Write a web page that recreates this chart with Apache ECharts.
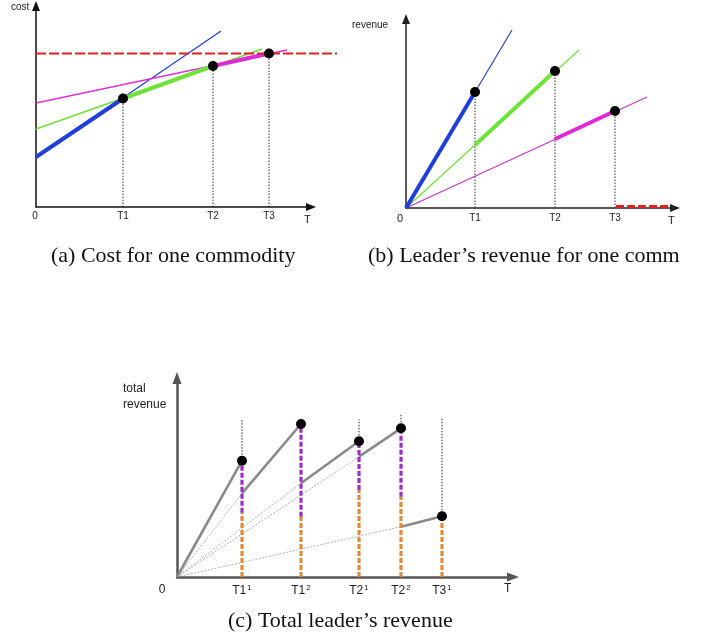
<!DOCTYPE html>
<html>
<head>
<meta charset="utf-8">
<script src="https://cdn.jsdelivr.net/npm/echarts@6/dist/echarts.min.js"></script>
<style>
  html, body { margin: 0; padding: 0; background: #fff; }
  #main { width: 705px; height: 642px; }
</style>
</head>
<body>
<div id="main"></div>
<script>
  // (a) cost for one commodity -- units are picture pixels from the origin
  var aTickX = [0, 87, 177, 233];
  var aTickName = ['0', 'T1', 'T2', 'T3'];
  var aBlue = [[0, 50], [185, 176]];
  var aGreen = [[0, 78], [226, 158]];
  var aPink = [[0, 104], [251, 157]];
  var aDots = [[87, 108.5], [177, 141], [233, 153.5]];
  var aLimit = [[0, 153.5], [301, 153.5]];

  // (b) leader's revenue for one commodity
  var bTickX = [0, 69, 149, 209];
  var bTickName = ['0', 'T1', 'T2', 'T3'];
  var bBlue = [[0, 0], [106, 178]];
  var bGreen = [[0, 0], [173, 158]];
  var bPink = [[0, 0], [241, 111]];
  var bDots = [[69, 116], [149, 137], [209, 97]];
  var bStart = [[0, 0], [69, 63], [149, 69]];
  var bLimit = [[210, 1.5], [264, 1.5]];

  // (c) total leader's revenue
  var cTickX = [0, 65, 124, 182, 224, 265];
  var cTickName = ['0', 'T1|1', 'T1|2', 'T2|1', 'T2|2', 'T3|1'];
  var cDots = [[65, 116.3], [124, 153], [182, 135.7], [224, 148.7], [265, 60.7]];
  var cJoin = [[0, 0], [65, 83.7], [124, 93.7], [182, 120.3], [224, 50.3]];
  var cOrange = [64.3, 60.3, 87, 80.3, 60.7];
  var cGuide = [157, null, 157.7, 162, 158.7];

  var chart = echarts.init(document.getElementById('main'));

  function seg(idx, data, color, width, type, z) {
    return {
      type: 'line', xAxisIndex: idx, yAxisIndex: idx, data: data,
      symbol: 'none', silent: true, clip: false, z: z || 2,
      lineStyle: { color: color, width: width, type: type || 'solid', cap: 'butt' }
    };
  }
  function dots(idx, data, size) {
    return {
      type: 'scatter', xAxisIndex: idx, yAxisIndex: idx, data: data,
      symbolSize: size, silent: true, z: 10,
      itemStyle: { color: '#000', opacity: 1 }
    };
  }
  function xAx(idx, max, ticks, fmt, color, width, arrow, font, margin, rich) {
    return {
      gridIndex: idx, type: 'value', min: 0, max: max,
      axisLine: { show: true, onZero: false, symbol: ['none', 'triangle'], symbolSize: arrow,
        lineStyle: { color: color, width: width } },
      axisTick: { show: false }, splitLine: { show: false },
      axisLabel: { customValues: ticks, formatter: fmt, margin: margin,
        fontFamily: 'Liberation Sans', fontSize: font, color: '#222', rich: rich }
    };
  }
  function yAx(idx, max, color, width, arrow) {
    return {
      gridIndex: idx, type: 'value', min: 0, max: max,
      axisLine: { show: true, onZero: false, symbol: ['none', 'triangle'], symbolSize: arrow,
        lineStyle: { color: color, width: width } },
      axisTick: { show: false }, splitLine: { show: false }, axisLabel: { show: false }
    };
  }
  // hidden axes with the same scale as (a), but wide enough for the red limit line
  function hidden(idx, max) {
    return { gridIndex: idx, type: 'value', min: 0, max: max, show: false };
  }

  var series = [];
  // (a)
  series.push(seg(0, aBlue, '#2141d6', 1.3));
  series.push(seg(0, aGreen, '#6fe034', 1.4));
  series.push(seg(0, aPink, '#dd2fd3', 1.4));
  series.push(seg(0, [aBlue[0], aDots[0]], '#1f3fd8', 4, 'solid', 3));
  series.push(seg(0, [aDots[0], aDots[1]], '#6ee43a', 4, 'solid', 3));
  series.push(seg(0, [aDots[1], aDots[2]], '#e02ad8', 4, 'solid', 3));
  series.push(seg(3, aLimit, '#dd2222', 2, [10, 3], 4));
  aDots.forEach(function (d) {
    series.push(seg(0, [[d[0], 0], d], '#333', 1, [1.5, 1.5]));
  });
  series.push(dots(0, aDots, 10));
  // (b)
  series.push(seg(1, bBlue, '#2b44b4', 1.2));
  series.push(seg(1, bGreen, '#72e03c', 1.2));
  series.push(seg(1, bPink, '#c634c2', 1.2));
  series.push(seg(1, [bStart[0], bDots[0]], '#1f3fd8', 4, 'solid', 3));
  series.push(seg(1, [bStart[1], bDots[1]], '#6ee43a', 4, 'solid', 3));
  series.push(seg(1, [bStart[2], bDots[2]], '#e02ad8', 4, 'solid', 3));
  series.push(seg(1, bLimit, '#dd2222', 3, [8, 3], 4));
  bDots.forEach(function (d) {
    series.push(seg(1, [[d[0], 0], d], '#333', 1, [1.5, 1.5]));
  });
  series.push(dots(1, bDots, 10));
  // (c)
  cJoin.forEach(function (j, i) {
    if (i > 0) series.push(seg(2, [[0, 0], j], '#9a9a9a', 0.8, [2, 1.5], 1));
    series.push(seg(2, [j, cDots[i]], '#8a8a8a', 2.6, 'solid', 3));
  });
  cDots.forEach(function (d, i) {
    series.push(seg(2, [[d[0], 0], [d[0], cOrange[i]]], '#e08a3c', 3.2, [5, 2], 4));
    if (d[1] > cOrange[i] + 1) {
      series.push(seg(2, [[d[0], cOrange[i]], d], '#9a2fc4', 3.2, [5, 2], 4));
    }
    if (cGuide[i] !== null) {
      series.push(seg(2, [d, [d[0], cGuide[i]]], '#222', 1, [1.5, 1.5], 2));
    }
  });
  series.push(dots(2, cDots, 10));

  var tickFmt = function (ticks, names) {
    return function (v) {
      var n = names[ticks.indexOf(v)];
      if (n === '0') return '{z|0}';
      var p = n.split('|');
      return p.length > 1 ? '{b|' + p[0] + '}{s|' + p[1] + '}' : n;
    };
  };

  var capStyle = { fontFamily: 'Liberation Serif', fontSize: 22, fontWeight: 'normal', color: '#111' };

  chart.setOption({
    animation: false,
    textStyle: { fontFamily: 'Liberation Sans' },
    grid: [
      { left: 36, top: 6, width: 275, height: 201 },
      { left: 406, top: 19, width: 269, height: 189 },
      { left: 177, top: 378, width: 336, height: 199 },
      { left: 36, top: 6, width: 301, height: 201 }
    ],
    xAxis: [
      xAx(0, 275, aTickX, tickFmt(aTickX, aTickName), '#111', 1.5, [8, 10], 10, 4,
        { z: { fontSize: 10, color: '#222', padding: [0, 2, 0, 0] } }),
      xAx(1, 269, bTickX, tickFmt(bTickX, bTickName), '#222', 1.5, [8, 10], 10, 5,
        { z: { fontSize: 11, color: '#222', padding: [0, 12, 0, 0] } }),
      xAx(2, 336, cTickX, tickFmt(cTickX, cTickName), '#555', 2.5, [9, 12], 12, 7,
        { z: { fontSize: 12, color: '#222', padding: [0, 30, 0, 0] },
          b: { fontSize: 12, color: '#222' },
          s: { fontSize: 8, color: '#222', padding: [0, 0, 6, 1] } }),
      hidden(3, 301)
    ],
    yAxis: [
      yAx(0, 201, '#111', 1.5, [8, 10]),
      yAx(1, 189, '#222', 1.5, [8, 10]),
      yAx(2, 199, '#555', 2.5, [9, 12]),
      hidden(3, 201)
    ],
    series: series,
    title: [
      { text: '(a) Cost for one commodity', left: 51, top: 245, padding: 0, textStyle: capStyle },
      { text: '(b) Leader\u2019s revenue for one comm', left: 368, top: 245, padding: 0, textStyle: capStyle },
      { text: '(c) Total leader\u2019s revenue', left: 228, top: 610, padding: 0, textStyle: capStyle }
    ],
    graphic: [
      { type: 'text', left: 11, top: 2, style: { text: 'cost', font: '10px "Liberation Sans"', fill: '#222' } },
      { type: 'text', left: 304, top: 214, style: { text: 'T', font: '11px "Liberation Sans"', fill: '#222' } },
      { type: 'text', left: 352, top: 20, style: { text: 'revenue', font: '10px "Liberation Sans"', fill: '#222' } },
      { type: 'text', left: 668, top: 215, style: { text: 'T', font: '11px "Liberation Sans"', fill: '#222' } },
      { type: 'text', left: 123, top: 381, style: { text: 'total\nrevenue', font: '12px "Liberation Sans"', fill: '#222', lineHeight: 16 } },
      { type: 'text', left: 504, top: 583, style: { text: 'T', font: '12px "Liberation Sans"', fill: '#222' } }
    ]
  });
</script>
</body>
</html>
